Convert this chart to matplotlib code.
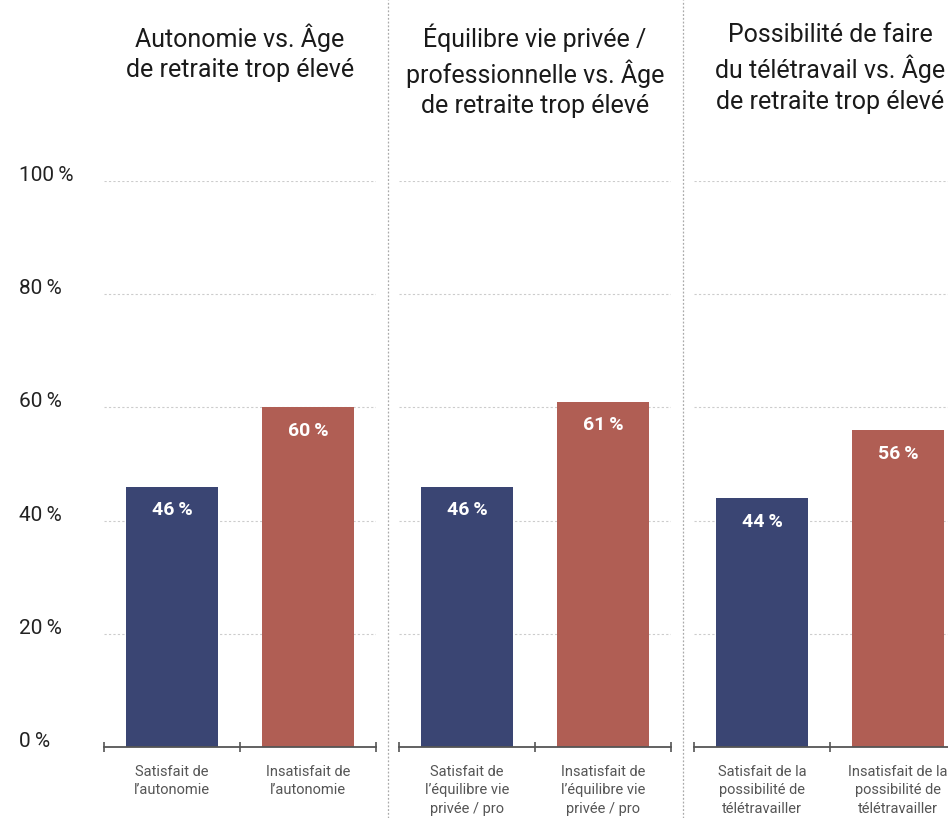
import matplotlib
matplotlib.use("Agg")
import matplotlib.pyplot as plt
from matplotlib.lines import Line2D

plt.rcParams["font.family"] = ["Roboto", "DejaVu Sans"]

titles = [
    "Autonomie vs. Âge\nde retraite trop élevé",
    "Équilibre vie privée /\nprofessionnelle vs. Âge\nde retraite trop élevé",
    "Possibilité de faire\ndu télétravail vs. Âge\nde retraite trop élevé",
]
categories = [
    ["Satisfait de\nl’autonomie", "Insatisfait de\nl’autonomie"],
    ["Satisfait de\nl’équilibre vie\nprivée / pro", "Insatisfait de\nl’équilibre vie\nprivée / pro"],
    ["Satisfait de la\npossibilité de\ntélétravailler", "Insatisfait de la\npossibilité de\ntélétravailler"],
]
satisfied = [46, 46, 44]
unsatisfied = [60, 61, 56]
yticks = [0, 20, 40, 60, 80, 100]

colors = ["#3a4573", "#b05e54"]
W, H = 948, 818
fig = plt.figure(figsize=(W / 100, H / 100), dpi=100)

ax_lefts = [104, 399, 694]
ax_w = 272
y0, y100 = 747, 181
for i, left in enumerate(ax_lefts):
    ax = fig.add_axes([left / W, (H - y0) / H, ax_w / W, (y0 - y100) / H])
    vals = [satisfied[i], unsatisfied[i]]
    bars = ax.bar([0, 1], vals, width=0.67, color=colors, zorder=3)
    for b, v in zip(bars, vals):
        ax.annotate(f"{v}\u2009%", (b.get_x() + b.get_width() / 2, v),
                    xytext=(0, -17), textcoords="offset points",
                    ha="center", va="center", color="white",
                    fontsize=14, fontweight="bold", zorder=4)
    ax.set_xlim(-0.5, 1.5)
    ax.set_ylim(0, 100)
    ax.set_yticks(yticks)
    ax.yaxis.grid(True, color="#cccccc", linestyle=(0, (2, 2)), linewidth=0.8, zorder=0)
    ax.tick_params(axis="y", length=0)
    for s in ["top", "right", "left"]:
        ax.spines[s].set_visible(False)
    ax.spines["bottom"].set_color("#555555")
    ax.spines["bottom"].set_linewidth(1.3)
    ax.spines["bottom"].set_zorder(5)
    ax.set_xticks([0, 1])
    ax.set_xticklabels(categories[i], fontsize=10.5, color="#555555", linespacing=1.4)
    ax.tick_params(axis="x", which="major", length=0, pad=13)
    ax.set_xticks([-0.5, 0.5, 1.5], minor=True)
    ax.tick_params(axis="x", which="minor", length=7, direction="inout",
                   color="#555555", width=1.2)
    # titles are top-aligned above each panel
    fig.text((left + ax_w / 2) / W, (H - 23) / H, titles[i], ha="center", va="top",
             fontsize=18, color="#1a1a1a", linespacing=1.34)
    if i == 0:
        ax.set_yticklabels([f"{t}\u2009%" for t in yticks], fontsize=15, color="#222222")
        for lab in ax.get_yticklabels():
            lab.set_horizontalalignment("left")
            lab.set_verticalalignment("baseline")
        ax.tick_params(axis="y", pad=61)
    else:
        ax.set_yticklabels([])

# dotted separators between panels
for xs in [388, 683]:
    fig.add_artist(Line2D([xs / W, xs / W], [0, 1], transform=fig.transFigure,
                          color="#aaaaaa", linestyle=(0, (1.5, 1.5)), linewidth=0.9))

fig.savefig("out.png", dpi=100)
